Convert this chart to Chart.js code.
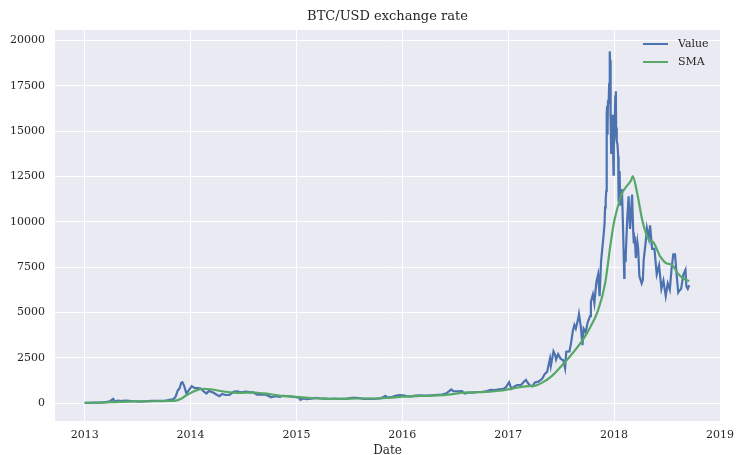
<!DOCTYPE html>
<html>
<head>
<meta charset="utf-8">
<script src="https://cdn.jsdelivr.net/npm/chart.js@4.4.0/dist/chart.umd.min.js"></script>
<style>
    html, body { margin: 0; padding: 0; background: #ffffff; }
    #wrap { width: 738px; height: 455px; }
</style>
</head>
<body>
<div id="wrap"><canvas id="btcChart" width="738" height="455"></canvas></div>
<script>
// BTC/USD 시세 + 이동평균
var valueDates = [
    '2013-01-01','2013-01-15','2013-02-01','2013-02-15','2013-03-01','2013-03-15','2013-03-29','2013-04-09','2013-04-16','2013-04-25',
    '2013-05-10','2013-05-25','2013-06-10','2013-06-25','2013-07-05','2013-07-20','2013-08-05','2013-08-20','2013-09-05','2013-09-20',
    '2013-10-05','2013-10-20','2013-11-01','2013-11-10','2013-11-18','2013-11-24','2013-11-30','2013-12-04','2013-12-10','2013-12-18',
    '2013-12-24','2014-01-05','2014-01-15','2014-01-25','2014-02-05','2014-02-15','2014-02-25','2014-03-05','2014-03-20','2014-04-01',
    '2014-04-11','2014-04-20','2014-05-01','2014-05-15','2014-05-31','2014-06-10','2014-06-25','2014-07-10','2014-07-25','2014-08-05',
    '2014-08-18','2014-09-01','2014-09-15','2014-09-25','2014-10-05','2014-10-20','2014-11-05','2014-11-15','2014-12-01','2014-12-15',
    '2014-12-31','2015-01-10','2015-01-15','2015-01-25','2015-02-05','2015-02-20','2015-03-10','2015-03-25','2015-04-10','2015-04-25',
    '2015-05-10','2015-05-25','2015-06-10','2015-06-25','2015-07-10','2015-07-25','2015-08-10','2015-08-20','2015-09-05','2015-09-20',
    '2015-10-05','2015-10-20','2015-11-04','2015-11-10','2015-11-25','2015-12-05','2015-12-20','2016-01-05','2016-01-15','2016-02-01',
    '2016-02-15','2016-03-01','2016-03-15','2016-04-01','2016-04-15','2016-05-01','2016-05-15','2016-06-01','2016-06-12','2016-06-18',
    '2016-06-25','2016-07-10','2016-07-25','2016-08-03','2016-08-15','2016-09-01','2016-09-15','2016-10-01','2016-10-15','2016-11-01',
    '2016-11-15','2016-12-01','2016-12-15','2016-12-25','2017-01-04','2017-01-12','2017-01-20','2017-02-01','2017-02-15','2017-02-24',
    '2017-03-03','2017-03-10','2017-03-18','2017-03-25','2017-04-03','2017-04-15','2017-04-28','2017-05-07','2017-05-15','2017-05-25',
    '2017-05-28','2017-06-06','2017-06-12','2017-06-15','2017-06-22','2017-07-01','2017-07-10','2017-07-16','2017-07-20','2017-07-31',
    '2017-08-05','2017-08-12','2017-08-17','2017-08-22','2017-08-31','2017-09-02','2017-09-08','2017-09-14','2017-09-18','2017-09-25',
    '2017-10-01','2017-10-10','2017-10-13','2017-10-20','2017-10-25','2017-11-01','2017-11-07','2017-11-12','2017-11-17','2017-11-26',
    '2017-11-29','2017-12-01','2017-12-03','2017-12-05','2017-12-06','2017-12-07','2017-12-08','2017-12-09','2017-12-10','2017-12-11',
    '2017-12-13','2017-12-15','2017-12-17','2017-12-18','2017-12-19','2017-12-20','2017-12-21','2017-12-22','2017-12-24','2017-12-26',
    '2017-12-28','2017-12-30','2017-12-31','2018-01-03','2018-01-05','2018-01-07','2018-01-08','2018-01-10','2018-01-13','2018-01-15',
    '2018-01-16','2018-01-17','2018-01-18','2018-01-20','2018-01-22','2018-01-25','2018-01-28','2018-01-31','2018-02-02','2018-02-05',
    '2018-02-06','2018-02-08','2018-02-10','2018-02-15','2018-02-20','2018-02-23','2018-02-25','2018-03-04','2018-03-08','2018-03-10',
    '2018-03-13','2018-03-17','2018-03-20','2018-03-22','2018-03-25','2018-03-29','2018-04-01','2018-04-06','2018-04-10','2018-04-13',
    '2018-04-20','2018-04-24','2018-05-01','2018-05-05','2018-05-12','2018-05-20','2018-05-28','2018-06-05','2018-06-13','2018-06-20',
    '2018-06-28','2018-07-05','2018-07-12','2018-07-18','2018-07-24','2018-07-30','2018-08-05','2018-08-10','2018-08-14','2018-08-20',
    '2018-08-28','2018-09-04','2018-09-07','2018-09-12','2018-09-17'
];
var valuePrices = [
    13, 14, 20, 27, 34, 47, 90, 230, 80, 140,
    115, 130, 105, 100, 75, 92, 105, 115, 125, 125,
    122, 175, 200, 330, 700, 800, 1120, 1150, 950, 520,
    660, 930, 830, 820, 800, 640, 530, 670, 580, 460,
    380, 500, 450, 445, 630, 650, 590, 630, 600, 590,
    470, 480, 470, 410, 320, 385, 340, 400, 380, 350,
    320, 290, 180, 260, 220, 245, 290, 250, 240, 225,
    240, 237, 230, 243, 290, 290, 265, 235, 235, 230,
    240, 270, 400, 310, 325, 390, 440, 430, 380, 370,
    405, 430, 415, 415, 430, 450, 455, 535, 670, 750,
    660, 650, 655, 530, 570, 575, 610, 610, 640, 730,
    710, 755, 780, 890, 1150, 780, 895, 990, 1010, 1180,
    1280, 1100, 960, 930, 1140, 1180, 1340, 1600, 1720, 2450,
    2050, 2850, 2650, 2400, 2700, 2440, 2360, 1930, 2830, 2850,
    3250, 4000, 4300, 4100, 4700, 4900, 4250, 3200, 4100, 3900,
    4400, 4800, 5600, 6000, 5500, 6700, 7100, 5900, 7800, 9300,
    9900, 10800, 11200, 11700, 13500, 16000, 16400, 14800, 15200, 16700,
    16500, 17600, 19400, 18900, 17500, 16600, 15600, 13800, 13900, 15900,
    14400, 12600, 14100, 15100, 16900, 17200, 15200, 14500, 14200, 13600,
    11100, 11200, 11500, 12800, 10900, 11200, 11800, 10100, 8900, 6900,
    7700, 8200, 8100, 10100, 11400, 10100, 9600, 11500, 9400, 8800,
    9200, 8000, 8600, 8900, 8500, 7000, 6850, 6600, 6800, 7900,
    8900, 9650, 9100, 9800, 8500, 8500, 7100, 7600, 6300, 6750,
    5900, 6600, 6250, 7400, 8200, 8200, 7000, 6100, 6200, 6300,
    7100, 7350, 6450, 6300, 6500
];
var smaDates = [
    '2013-01-01','2013-03-01','2013-05-01','2013-07-01','2013-09-01','2013-10-15','2013-11-15','2013-12-01','2013-12-15','2014-01-01',
    '2014-01-20','2014-02-15','2014-03-10','2014-04-10','2014-05-10','2014-06-10','2014-07-10','2014-08-10','2014-09-10','2014-10-10',
    '2014-11-10','2014-12-10','2015-01-10','2015-02-10','2015-03-10','2015-04-10','2015-06-01','2015-08-01','2015-10-01','2015-11-15',
    '2016-01-01','2016-03-01','2016-05-01','2016-06-15','2016-08-01','2016-10-01','2016-12-01','2017-01-15','2017-03-01','2017-04-01',
    '2017-04-25','2017-06-01','2017-07-12','2017-08-01','2017-09-10','2017-10-01','2017-11-07','2017-12-01','2017-12-20','2018-01-01',
    '2018-01-15','2018-01-26','2018-02-10','2018-03-01','2018-03-06','2018-03-20','2018-04-08','2018-04-20','2018-05-01','2018-05-15',
    '2018-06-10','2018-06-28','2018-07-20','2018-08-08','2018-08-25','2018-09-17'
];
var smaPrices = [
    13, 25, 70, 95, 100, 115, 150, 250, 400, 550,
    700, 780, 760, 680, 600, 560, 570, 570, 530, 470,
    400, 370, 330, 290, 265, 245, 235, 250, 250, 290,
    350, 390, 420, 480, 580, 600, 680, 800, 920, 950,
    1100, 1500, 2200, 2550, 3370, 3900, 5130, 6600, 8800, 10000,
    10900, 11500, 11900, 12300, 12520, 11700, 10100, 9400, 9000, 8890,
    8060, 7730, 7620, 7170, 6900, 6730
];
var yearTicks = [2013, 2014, 2015, 2016, 2017, 2018, 2019];
var priceTicks = [0, 2500, 5000, 7500, 10000, 12500, 15000, 17500, 20000];

function toYear(s) {
    var d = Date.parse(s + 'T00:00:00Z');
    var y = parseInt(s.substring(0, 4));
    var start = Date.UTC(y, 0, 1), end = Date.UTC(y + 1, 0, 1);
    return y + (d - start) / (end - start);
}

function toPoints(dates, values) {
    var pts = [];
    for (var i = 0; i < dates.length; i++)
        pts.push({x: toYear(dates[i]), y: values[i]});
    return pts;
}

var FONT = "'DejaVu Serif', serif";
var TEXT = '#262626';
var TITLE = 'BTC/USD exchange rate';

var plotBackground = {
    id: 'plotBackground',
    beforeDraw: function(chart) {
        var a = chart.chartArea, ctx = chart.ctx;
        ctx.save();
        ctx.fillStyle = '#EAEAF2';
        ctx.fillRect(a.left, a.top, a.right - a.left, a.bottom - a.top);
        ctx.restore();
    }
};

// 제목은 플롯 영역 가운데, 범례는 플롯 안 오른쪽 위
var titleAndLegend = {
    id: 'titleAndLegend',
    afterDraw: function(chart) {
        var ctx = chart.ctx, a = chart.chartArea;
        ctx.save();
        ctx.fillStyle = TEXT;
        ctx.font = '13px ' + FONT;
        ctx.textAlign = 'center';
        ctx.textBaseline = 'middle';
        ctx.fillText(TITLE, (a.left + a.right) / 2, 17);

        var x0 = a.right - 77, y0 = a.top + 14;
        ctx.font = '11px ' + FONT;
        ctx.textAlign = 'left';
        chart.data.datasets.forEach(function(ds, i) {
            var y = y0 + i * 18;
            ctx.strokeStyle = ds.borderColor;
            ctx.lineWidth = 2;
            ctx.beginPath();
            ctx.moveTo(x0, y);
            ctx.lineTo(x0 + 25, y);
            ctx.stroke();
            ctx.fillStyle = TEXT;
            ctx.fillText(ds.label, x0 + 35, y);
        });
        ctx.restore();
    }
};

var ctx = document.getElementById('btcChart').getContext('2d');
var btcChart = new Chart(ctx, {
    type: 'line',
    data: {
        datasets: [
            {
                label: 'Value',
                data: toPoints(valueDates, valuePrices),
                borderColor: '#4C72B0',
                borderWidth: 2.2,
                pointRadius: 0,
                fill: false,
                tension: 0,
                order: 2
            },
            {
                label: 'SMA',
                data: toPoints(smaDates, smaPrices),
                borderColor: '#55A868',
                borderWidth: 2.2,
                pointRadius: 0,
                fill: false,
                cubicInterpolationMode: 'monotone',
                order: 1
            }
        ]
    },
    options: {
        responsive: false,
        animation: false,
        layout: { padding: { left: 0, right: 18, top: 30, bottom: 0 } },
        plugins: {
            legend: { display: false },
            tooltip: { enabled: false },
            title: { display: false }
        },
        scales: {
            x: {
                type: 'linear',
                min: 2012.72,
                max: 2019.0,
                border: { display: false },
                grid: { color: '#ffffff', lineWidth: 1, drawTicks: false },
                ticks: {
                    color: TEXT,
                    font: { family: FONT, size: 11 },
                    padding: 8,
                    maxRotation: 0,
                    callback: function(v) { return String(v); }
                },
                afterBuildTicks: function(scale) {
                    scale.ticks = yearTicks.map(function(v) { return {value: v}; });
                },
                afterFit: function(scale) {
                    scale.height = 34;
                    scale.paddingLeft = 0;
                    scale.paddingRight = 0;
                },
                title: {
                    display: true,
                    text: 'Date',
                    color: TEXT,
                    font: { family: FONT, size: 12 },
                    padding: { top: 0, bottom: -3 }
                }
            },
            y: {
                type: 'linear',
                min: -990,
                max: 20580,
                border: { display: false },
                grid: { color: '#ffffff', lineWidth: 1, drawTicks: false },
                ticks: {
                    color: TEXT,
                    font: { family: FONT, size: 11 },
                    padding: 10,
                    callback: function(v) { return String(v); }
                },
                afterBuildTicks: function(scale) {
                    scale.ticks = priceTicks.map(function(v) { return {value: v}; });
                },
                afterFit: function(scale) {
                    scale.width = 55;
                    scale.paddingTop = 0;
                    scale.paddingBottom = 0;
                }
            }
        }
    },
    plugins: [plotBackground, titleAndLegend]
});
</script>
</body>
</html>
